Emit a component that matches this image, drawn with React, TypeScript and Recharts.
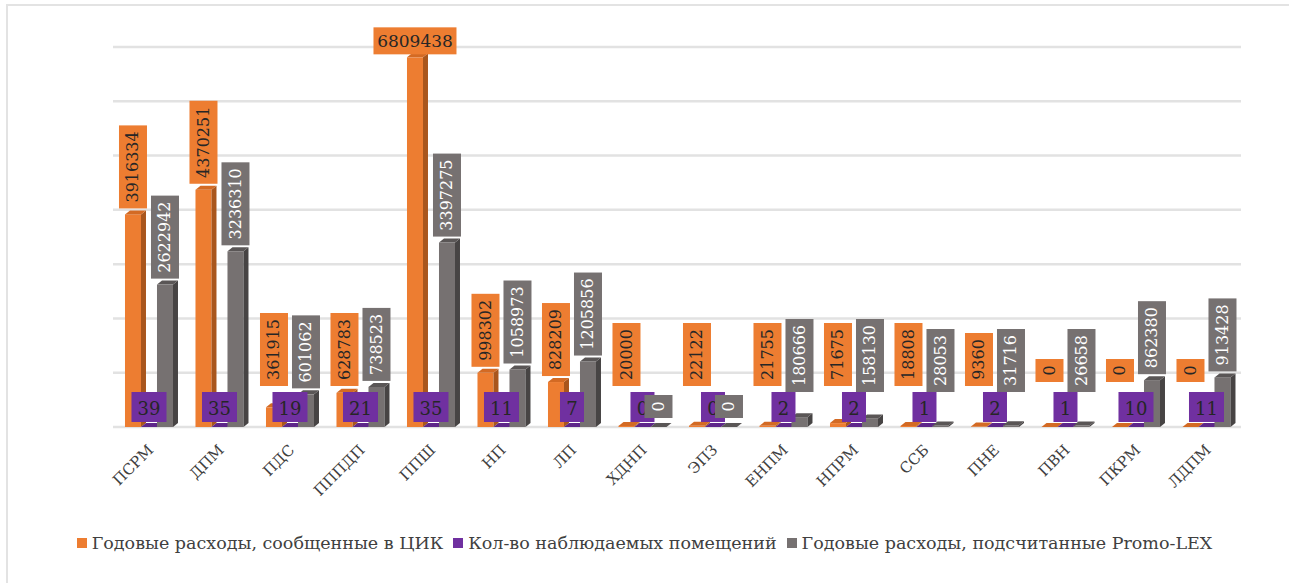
import React from 'react';
import { BarChart, Bar, XAxis, YAxis, CartesianGrid, LabelList, Legend } from 'recharts';

const categories = ['ПСРМ', 'ДПМ', 'ПДС', 'ПППДП', 'ППШ', 'НП', 'ЛП', 'ХДНП', 'ЭПЗ', 'ЕНПМ', 'НПРМ', 'ССБ', 'ПНЕ', 'ПВН', 'ПКРМ', 'ЛДПМ'];
const reported = [3916334, 4370251, 361915, 628783, 6809438, 998302, 828209, 20000, 22122, 21755, 71675, 18808, 9360, 0, 0, 0];
const premises = [39, 35, 19, 21, 35, 11, 7, 0, 0, 2, 2, 1, 2, 1, 10, 11];
const counted = [2622942, 3236310, 601062, 738523, 3397275, 1058973, 1205856, 0, 0, 180666, 158130, 28053, 31716, 26658, 862380, 913428];
const yTicks = [0, 1000000, 2000000, 3000000, 4000000, 5000000, 6000000, 7000000];

const seriesNames = [
  'Годовые расходы, сообщенные в ЦИК',
  'Кол-во наблюдаемых помещений',
  'Годовые расходы, подсчитанные Promo-LEX',
];

const ORANGE = '#ED7D31';
const PURPLE = '#7030A0';
const GRAY = '#767171';
const FONT = '"DejaVu Serif", serif';

const data = categories.map((name, i) => ({
  name,
  reported: reported[i],
  premises: premises[i],
  counted: counted[i],
}));

// fake 3D column: front face, darker right side, top face
const make3D = (front: string, side: string, top: string) => (props: any) => {
  const { x, y, width, height } = props;
  const d = 5;
  const dy = 4;
  const w = width;
  const h = Math.max(height, 0);
  return (
    <g>
      <rect x={x} y={y} width={w} height={h} fill={front} />
      <polygon points={`${x + w},${y} ${x + w + d},${y - dy} ${x + w + d},${y + h - dy} ${x + w},${y + h}`} fill={side} />
      <polygon points={`${x},${y} ${x + d},${y - dy} ${x + w + d},${y - dy} ${x + w},${y}`} fill={top} />
    </g>
  );
};

// boxed value label, vertical text above the bar; floor = lowest allowed box bottom
const vertLabel = (fill: string, color: string, floor: number, zeroFloor: number) => (props: any) => {
  const vb = props.viewBox || props;
  const { x, y, width } = vb;
  const s = String(props.value);
  const cx = x + width / 2;
  const len = s.length * 10 + 13;
  if (y - 6 - len < 26) {
    // no room above: horizontal box on top
    return (
      <g>
        <rect x={cx - len / 2} y={y - 30} width={len} height={27} fill={fill} />
        <text x={cx} y={y - 16} textAnchor="middle" dominantBaseline="central" fill={color} fontSize={17} fontFamily={FONT}>
          {s}
        </text>
      </g>
    );
  }
  const bottom = props.value === 0 ? zeroFloor : Math.min(y - 6, floor);
  const my = bottom - len / 2;
  return (
    <g>
      <rect x={cx - 14} y={bottom - len} width={28} height={len} fill={fill} />
      <text
        x={cx}
        y={my}
        transform={`rotate(-90 ${cx} ${my})`}
        textAnchor="middle"
        dominantBaseline="central"
        fill={color}
        fontSize={16}
        fontFamily={FONT}
      >
        {s}
      </text>
    </g>
  );
};

const purpleLabel = (props: any) => {
  const vb = props.viewBox || props;
  const { x, width } = vb;
  const s = String(props.value);
  const cx = x + width / 2;
  const w = s.length * 11 + 13;
  return (
    <g>
      <rect x={cx - w / 2} y={392} width={w} height={30} fill={PURPLE} />
      <text x={cx} y={408} textAnchor="middle" dominantBaseline="central" fill="#262626" fontSize={18} fontFamily={FONT}>
        {s}
      </text>
    </g>
  );
};

const CategoryTick = (props: any) => {
  const { x, payload } = props;
  const ax = x + 6;
  const ay = 451;
  return (
    <text x={ax} y={ay} transform={`rotate(-45 ${ax} ${ay})`} textAnchor="end" fill="#404040" fontSize={15} fontFamily={FONT}>
      {payload.value}
    </text>
  );
};

const LegendContent = () => {
  const colors = [ORANGE, PURPLE, GRAY];
  return (
    <div style={{ display: 'flex', justifyContent: 'center', gap: 10, fontFamily: FONT, fontSize: 17.5, color: '#404040', whiteSpace: 'nowrap' }}>
      {seriesNames.map((n, i) => (
        <div key={n} style={{ display: 'flex', alignItems: 'center' }}>
          <span style={{ display: 'inline-block', width: 10, height: 10, background: colors[i], marginRight: 5 }} />
          <span>{n}</span>
        </div>
      ))}
    </div>
  );
};

const noShape = () => <g />;

export default function App() {
  return (
    <div style={{ position: 'absolute', left: 0, top: 0, width: 1289, height: 583, overflow: 'hidden', background: '#fff' }}>
      <div style={{ position: 'absolute', left: 6, top: 4, width: 1400, height: 700, border: '2px solid #e3e3e3' }} />
      <BarChart
        width={1289}
        height={583}
        data={data}
        margin={{ top: 47, right: 48, left: 113, bottom: 126 }}
        barCategoryGap="17%"
        barGap={0}
      >
        <CartesianGrid vertical={false} stroke="#e2e2e2" strokeWidth={2.5} />
        <YAxis hide domain={[0, 7000000]} ticks={yTicks} />
        <XAxis dataKey="name" axisLine={false} tickLine={false} tick={<CategoryTick />} interval={0} />
        <XAxis dataKey="name" xAxisId="labels" hide />
        <Bar dataKey="reported" name={seriesNames[0]} fill={ORANGE} shape={make3D(ORANGE, '#A9561D', '#D36A24')} isAnimationActive={false} />
        <Bar dataKey="premises" name={seriesNames[1]} fill={PURPLE} shape={make3D(PURPLE, '#4E1F72', '#5E268A')} isAnimationActive={false} />
        <Bar dataKey="counted" name={seriesNames[2]} fill={GRAY} shape={make3D(GRAY, '#474444', '#5A5656')} isAnimationActive={false} />
        <Bar dataKey="reported" xAxisId="labels" legendType="none" shape={noShape} isAnimationActive={false}>
          <LabelList dataKey="reported" content={vertLabel(ORANGE, '#262626', 386, 382)} />
        </Bar>
        <Bar dataKey="premises" xAxisId="labels" legendType="none" shape={noShape} isAnimationActive={false}>
          <LabelList dataKey="premises" content={purpleLabel} />
        </Bar>
        <Bar dataKey="counted" xAxisId="labels" legendType="none" shape={noShape} isAnimationActive={false}>
          <LabelList dataKey="counted" content={vertLabel(GRAY, '#ffffff', 392, 418)} />
        </Bar>
        <Legend
          content={<LegendContent />}
          layout="vertical"
          align="center"
          verticalAlign="middle"
          wrapperStyle={{ top: 533, left: 0, width: 1289 }}
        />
      </BarChart>
    </div>
  );
}
